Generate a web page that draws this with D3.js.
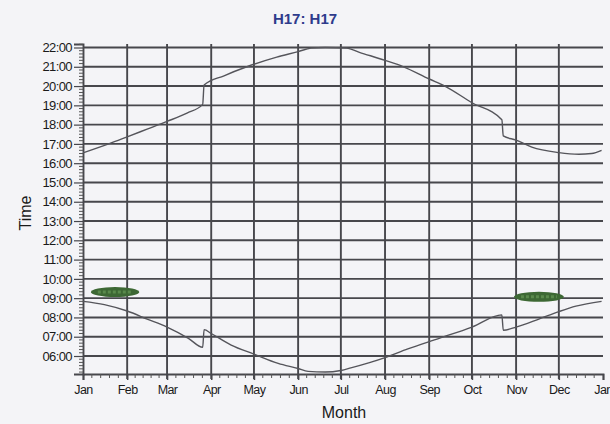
<!DOCTYPE html>
<html>
<head>
<meta charset="utf-8">
<script src="https://cdn.jsdelivr.net/npm/d3@7"></script>
<style>
  body { margin: 0; background: #f4f4f7; }
  svg { display: block; font-family: "Liberation Sans", Arial, sans-serif; }
</style>
</head>
<body>
<div id="chart"></div>
<script>
var width = 610;
var height = 424;

// month labels along the bottom
var months = ["Jan", "Feb", "Mar", "Apr", "May", "Jun", "Jul", "Aug", "Sep", "Oct", "Nov", "Dec", "Jan"];
var hourTicks = [6, 7, 8, 9, 10, 11, 12, 13, 14, 15, 16, 17, 18, 19, 20, 21, 22];

// upper curve (evening)
var sunsetDates = ["01-01", "01-19", "02-01", "02-15", "03-01", "03-15", "03-26", "03-27", "04-10", "04-26",
    "05-17", "06-01", "06-10", "06-20", "07-05", "07-14", "08-01", "08-14", "09-01", "09-12",
    "10-01", "10-22", "10-23", "11-01", "11-12", "12-01", "12-15", "12-24", "12-31"];
var sunsetTimes = ["16:32", "17:00", "17:22", "17:46", "18:10", "18:36", "19:03", "20:03", "20:32", "21:00",
    "21:30", "21:47", "21:58", "22:00", "21:58", "21:45", "21:20", "21:00", "20:22", "20:00",
    "19:08", "18:15", "17:25", "17:12", "16:50", "16:33", "16:28", "16:30", "16:40"];

// lower curve (morning)
var sunriseDates = ["01-01", "01-16", "02-01", "02-15", "03-01", "03-16", "03-26", "03-27", "04-01", "04-15",
    "05-01", "05-18", "06-01", "06-08", "06-20", "07-01", "07-08", "08-01", "08-17", "09-08",
    "10-01", "10-22", "10-23", "11-01", "11-17", "12-01", "12-13", "12-31"];
var sunriseTimes = ["08:50", "08:40", "08:20", "07:55", "07:30", "06:55", "06:27", "07:22", "07:10", "06:34",
    "06:06", "05:37", "05:21", "05:12", "05:10", "05:15", "05:23", "05:55", "06:22", "06:55",
    "07:30", "08:08", "07:20", "07:30", "07:55", "08:18", "08:35", "08:50"];

// green marker smudges
var blobStart = ["01-10", "11-03"];
var blobEnd = ["02-06", "12-01"];
var blobTime = ["09:19", "09:04"];

var parseDay = d3.timeParse("%Y-%m-%d");
function day(s) { return parseDay("2009-" + s); }
function hours(s) { var p = s.split(":"); return +p[0] + p[1] / 60; }

var plotLeft = 83, plotRight = 603, plotTop = 44, plotBottom = 374;

var x = d3.scaleTime()
    .domain([day("01-01"), parseDay("2010-01-01")])
    .range([plotLeft, plotRight]);
var y = d3.scaleLinear()
    .domain([6 - (plotBottom - 356) / 19.28, 22 + 3.5 / 19.28])
    .range([plotBottom, plotTop]);

var svg = d3.select("#chart")
    .append("svg")
    .attr("width", width)
    .attr("height", height);

svg.append("rect").attr("width", width).attr("height", height).attr("fill", "#f4f4f7");

var monthStarts = d3.timeMonth.range(day("01-01"), parseDay("2010-01-02"));

// grid
var grid = svg.append("g").attr("stroke", "#47474c").attr("stroke-width", 1.9);
grid.selectAll("line.v")
    .data(monthStarts.slice(1, 12))
    .enter().append("line")
    .attr("x1", d => x(d)).attr("x2", d => x(d))
    .attr("y1", plotTop).attr("y2", plotBottom + 5);
grid.selectAll("line.h")
    .data(hourTicks)
    .enter().append("line")
    .attr("x1", plotLeft).attr("x2", plotRight)
    .attr("y1", d => y(d)).attr("y2", d => y(d));

// y axis
var yAxis = svg.append("g")
    .attr("transform", "translate(" + plotLeft + ",0)")
    .call(d3.axisLeft(y)
        .tickValues(hourTicks)
        .tickSize(9)
        .tickPadding(2)
        .tickFormat(d => d3.format("02")(d) + ":00"));
yAxis.select(".domain").attr("stroke", "#47474c").attr("stroke-width", 1.9);
yAxis.selectAll(".tick line").attr("stroke", "#47474c").attr("stroke-width", 1.2);
yAxis.selectAll("text")
    .attr("font-size", 13)
    .attr("letter-spacing", -0.6)
    .attr("fill", "#1a1a1a");

var minorY = d3.range(Math.ceil(y.domain()[0] * 6), Math.floor(y.domain()[1] * 6) + 1)
    .map(d => d / 6)
    .filter(d => Math.abs(d - Math.round(d)) > 0.01);
svg.append("g").selectAll("line")
    .data(minorY)
    .enter().append("line")
    .attr("x1", plotLeft - 4).attr("x2", plotLeft)
    .attr("y1", d => y(d)).attr("y2", d => y(d))
    .attr("stroke", "#555").attr("stroke-width", 1);

// x axis
var xAxis = svg.append("g")
    .attr("transform", "translate(0," + plotBottom + ")")
    .call(d3.axisBottom(x)
        .tickValues(monthStarts)
        .tickSize(6)
        .tickFormat((d, i) => months[i]));
xAxis.select(".domain").attr("stroke", "#47474c").attr("stroke-width", 1.9);
xAxis.selectAll(".tick line").attr("stroke", "#47474c").attr("stroke-width", 1.5);
xAxis.selectAll("text")
    .attr("font-size", 12.5)
    .attr("letter-spacing", -0.6)
    .attr("fill", "#1a1a1a")
    .attr("dy", "0.85em");

var minorX = [];
monthStarts.slice(0, 12).forEach(function (m, i) {
    var a = x(m), b = x(monthStarts[i + 1]);
    for (var k = 1; k < 5; k++) minorX.push(x.invert(a + (b - a) * k / 5));
});
svg.append("g").selectAll("line")
    .data(minorX)
    .enter().append("line")
    .attr("x1", d => x(d)).attr("x2", d => x(d))
    .attr("y1", plotBottom).attr("y2", plotBottom + 4)
    .attr("stroke", "#555").attr("stroke-width", 1);

// curves
var line = d3.line()
    .x(d => x(d[0]))
    .y(d => y(d[1]))
    .curve(d3.curveMonotoneX);

var sunset = sunsetDates.map((d, i) => [day(d), hours(sunsetTimes[i])]);
var sunrise = sunriseDates.map((d, i) => [day(d), hours(sunriseTimes[i])]);

svg.append("g")
    .selectAll("path")
    .data([sunset, sunrise])
    .enter().append("path")
    .attr("d", line)
    .attr("fill", "none")
    .attr("stroke", "#55555b")
    .attr("stroke-width", 1.4)
    .attr("stroke-linejoin", "round");

// green smudges
var blobs = svg.append("g");
blobStart.forEach(function (s, i) {
    var x0 = x(day(s)), x1 = x(day(blobEnd[i])), cy = y(hours(blobTime[i]));
    blobs.append("ellipse")
        .attr("cx", (x0 + x1) / 2).attr("cy", cy)
        .attr("rx", (x1 - x0) / 2 + 5).attr("ry", 5)
        .attr("fill", "#3d6834");
    blobs.append("line")
        .attr("x1", x0 + 2).attr("x2", x1 - 2)
        .attr("y1", cy).attr("y2", cy)
        .attr("stroke", "#5a8a4c")
        .attr("stroke-width", 3)
        .attr("stroke-dasharray", "3 2");
});

// titles
svg.append("text")
    .attr("x", 305).attr("y", 24)
    .attr("text-anchor", "middle")
    .attr("font-size", 15)
    .attr("font-weight", "bold")
    .attr("fill", "#2e3b8c")
    .text("H17: H17");

svg.append("text")
    .attr("transform", "translate(31," + ((plotTop + plotBottom) / 2 + 4) + ") rotate(-90)")
    .attr("text-anchor", "middle")
    .attr("font-size", 16)
    .attr("fill", "#1a1a1a")
    .text("Time");

svg.append("text")
    .attr("x", 344).attr("y", 418)
    .attr("text-anchor", "middle")
    .attr("font-size", 16)
    .attr("fill", "#1a1a1a")
    .text("Month");
</script>
</body>
</html>
